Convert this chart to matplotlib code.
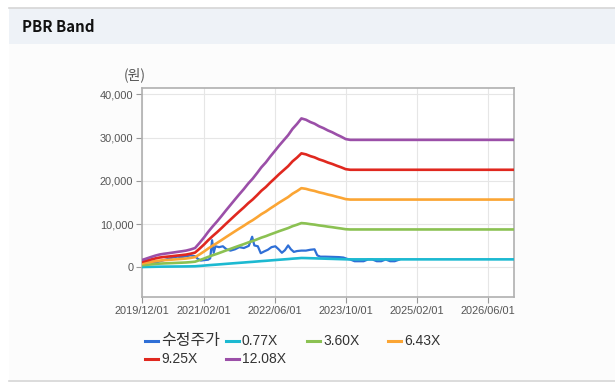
import matplotlib
matplotlib.use("Agg")
import matplotlib.pyplot as plt
from matplotlib.lines import Line2D
from matplotlib.patches import Rectangle
from matplotlib.ticker import FuncFormatter, FixedLocator
import matplotlib.dates as mdates
import pandas as pd

# ---------------- data ----------------
title = "PBR Band"
unit_label = "(원)"
series_names = ["수정주가", "0.77X", "3.60X", "6.43X", "9.25X", "12.08X"]
multiples = [0.77, 3.60, 6.43, 9.25, 12.08]
colors = ["#2f6fd6", "#1cb9d1", "#8bc152", "#fba534", "#e0281f", "#9b4fa8"]

# book value per share (monthly, 2019/12 .. 2023/11, then last point)
bps_dates = list(pd.date_range("2019-12-01", periods=48, freq="MS")) + [pd.Timestamp("2026-12-01")]
bps_values = [141, 170, 199, 225, 248, 262, 273, 285, 298, 310, 323, 345, 372,
              470, 575, 680, 785, 880, 985, 1090, 1195, 1300, 1400, 1500,
              1605, 1700, 1810, 1915, 2010, 2120, 2225, 2330, 2430, 2530, 2650, 2745, 2850,
              2825, 2780, 2750, 2700, 2665, 2620, 2585, 2540, 2500, 2455, 2440,
              2440]

price_dates = ["2019-12-01", "2020-01-01", "2020-02-01", "2020-03-01", "2020-04-01",
               "2020-05-01", "2020-06-01", "2020-07-01", "2020-08-01", "2020-09-01",
               "2020-10-01", "2020-11-01", "2020-12-01", "2020-12-20", "2021-01-10",
               "2021-02-01", "2021-03-01", "2021-03-15", "2021-03-28", "2021-04-08",
               "2021-04-20", "2021-05-15", "2021-06-10", "2021-07-05", "2021-08-01",
               "2021-09-01", "2021-10-01", "2021-11-01", "2021-12-05", "2021-12-28",
               "2022-01-12", "2022-02-05", "2022-02-25", "2022-03-20", "2022-04-15",
               "2022-05-10", "2022-06-05", "2022-06-28", "2022-07-20", "2022-08-10",
               "2022-09-01", "2022-09-20", "2022-10-10", "2022-11-01", "2022-12-01",
               "2023-01-01", "2023-02-01", "2023-03-01", "2023-03-20", "2023-04-10",
               "2023-05-15", "2023-07-01", "2023-08-15", "2023-09-15", "2023-10-10",
               "2023-11-01", "2023-12-01", "2024-01-01", "2024-02-01", "2024-03-01",
               "2024-04-01", "2024-05-01", "2024-06-01", "2024-07-01", "2024-08-01",
               "2024-09-01", "2024-10-01"]
price_values = [1100, 1200, 1300, 1100, 1400,
                1700, 2000, 2300, 2500, 2400,
                2600, 2800, 2600, 2000, 1600,
                1700, 1800, 2100, 6300, 3400,
                4900, 4700, 4900, 4200, 3900,
                4200, 4700, 4500, 5000, 7100,
                5100, 4900, 3300, 3700, 4100,
                4700, 4900, 4200, 3400, 4000,
                5100, 4200, 3600, 3800, 3900,
                3900, 4100, 4200, 2800, 2500,
                2500, 2450, 2400, 2300, 2000,
                1850, 1450, 1450, 1450, 1850,
                1850, 1450, 1450, 1850, 1450,
                1450, 1800]

y_ticks = [0, 10000, 20000, 30000, 40000]
y_limits = (-6744, 41386)
x_tick_dates = ["2019-12-01", "2021-02-01", "2022-06-01", "2023-10-01", "2025-02-01", "2026-06-01"]
x_limits = ("2019-12-01", "2026-12-01")

# ---------------- figure ----------------
W, H = 615, 385
fig = plt.figure(figsize=(W / 100, H / 100), dpi=100, facecolor="white")

def fx(x):
    return x / W

def fy(y):
    return 1 - y / H

# panel backgrounds
fig.patches.append(Rectangle((fx(9), fy(381)), fx(615 - 9), (381 - 44) / H,
                             transform=fig.transFigure, facecolor="#fcfcfc",
                             edgecolor="none", zorder=-10))
fig.patches.append(Rectangle((fx(9), fy(44)), fx(615 - 9), (44 - 8) / H,
                             transform=fig.transFigure, facecolor="#eef2f7",
                             edgecolor="none", zorder=-9))
fig.add_artist(Line2D([fx(9), 1], [fy(8), fy(8)], transform=fig.transFigure,
                      color="#d6d6d6", lw=1.2))
fig.add_artist(Line2D([fx(9), 1], [fy(380.5), fy(380.5)], transform=fig.transFigure,
                      color="#d6d6d6", lw=1.2))

fig.text(fx(21.5), fy(27), title, fontsize=10.8, fontweight="bold",
         family=["Noto Sans CJK KR", "DejaVu Sans"], color="#111111",
         ha="left", va="center")

ax = fig.add_axes([fx(141.7), fy(296.7), fx(514.3 - 141.7), (296.7 - 88.3) / H])
ax.set_facecolor("white")

bps = pd.Series(bps_values, index=pd.DatetimeIndex(bps_dates))
pdates = pd.to_datetime(price_dates)

ax.plot(pdates, price_values, color=colors[0], lw=1.6, zorder=3)
for i, m in enumerate(multiples):
    ax.plot(bps.index, bps.values * m, color=colors[i + 1], lw=1.9, zorder=4 + i,
            solid_joinstyle="round")

ax.set_xlim(pd.Timestamp(x_limits[0]), pd.Timestamp(x_limits[1]))
ax.set_ylim(*y_limits)
ax.yaxis.set_major_locator(FixedLocator(y_ticks))
ax.yaxis.set_major_formatter(FuncFormatter(lambda v, p: f"{int(v):,}"))
ax.xaxis.set_major_locator(FixedLocator(mdates.date2num(pd.to_datetime(x_tick_dates))))
ax.xaxis.set_major_formatter(mdates.DateFormatter("%Y/%m/%d"))

ax.grid(True, color="#e6e6e6", lw=0.8)
ax.set_axisbelow(True)
for s in ax.spines.values():
    s.set_color("#b0b0b0")
    s.set_linewidth(1.2)
ax.tick_params(axis="both", colors="#999999", length=4, width=0.8,
               labelsize=7.9, labelcolor="#555555",
               labelfontfamily="Liberation Sans")
ax.tick_params(axis="x", pad=3)
ax.tick_params(axis="y", pad=2)

fig.text(fx(135), fy(75), unit_label, fontsize=10, color="#555555",
         family=["Noto Sans CJK KR", "DejaVu Sans"], ha="center", va="center")

# legend (manual grid of 4 columns)
for i, name in enumerate(series_names):
    col, row = i % 4, i // 4
    x0 = 145 + 81 * col
    y0 = 341 + 17.6 * row
    fig.add_artist(Line2D([fx(x0), fx(x0 + 13)], [fy(y0), fy(y0)],
                          transform=fig.transFigure, color=colors[i], lw=2.2))
    is_hangul = any("\uac00" <= ch <= "\ud7a3" for ch in name)
    fig.text(fx(x0 + 16), fy(y0), name, fontsize=11.5 if is_hangul else 10,
             color="#333333",
             family=["Liberation Sans", "Noto Sans CJK KR"],
             ha="left", va="center")

fig.savefig("out.png", dpi=100, facecolor=fig.get_facecolor())
